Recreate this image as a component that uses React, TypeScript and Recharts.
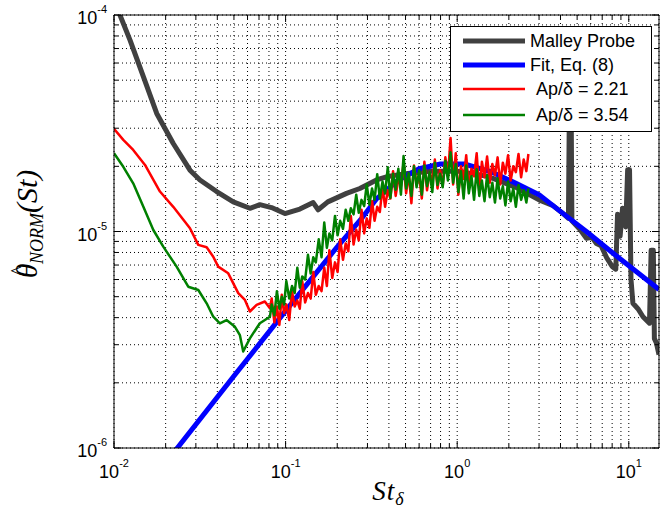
import React from 'react';
import { LineChart, Line, XAxis, YAxis, CartesianGrid, Legend } from 'recharts';

// ---------- data (y values in units of 1e-6) ----------
const malleySt = [0.01, 0.0124, 0.01483, 0.01774, 0.02215, 0.02772, 0.0317, 0.03964, 0.04955, 0.06194, 0.07081, 0.08279, 0.0991, 0.1211, 0.1448, 0.1548, 0.1762, 0.2265, 0.2708, 0.3388, 0.3873, 0.5, 0.7, 1.0, 1.5, 2.2, 3.0, 3.6, 4.2, 4.45, 4.5, 4.62, 4.66, 5.2, 5.66, 6.1, 6.48, 6.9, 7.41, 8.0, 8.4, 8.6, 8.9, 9.2, 9.6, 9.85, 10.1, 10.3, 10.57, 11.3, 12.1, 13.2, 13.5, 13.9, 14.1, 14.5, 15];
const malleyY = [117, 76.6, 51.9, 35.1, 25.5, 19.2, 17.3, 15.3, 13.7, 12.8, 13.3, 12.9, 12.1, 12.7, 13.6, 12.6, 13.7, 15.0, 15.8, 17.3, 17.9, 18.5, 19.0, 19.0, 18.0, 16.0, 14.0, 13.2, 12.0, 11.5, 33, 33, 11.2, 10.2, 9.3, 9.4, 8.8, 8.6, 7.6, 6.9, 6.7, 12.0, 9.5, 12.8, 10.5, 19.3, 19.3, 6.0, 4.66, 4.4, 4.04, 3.77, 8.2, 8.2, 3.2, 3.05, 2.7];

const fitSt = [0.022, 0.05, 0.1, 0.2, 0.28, 0.34, 0.45, 0.6, 0.8, 1.1, 1.6, 2.2, 3.0, 4.2, 5.66, 8, 11, 15];
const fitY = [0.94, 2.15, 4.3, 8.5, 11.6, 14.2, 17.2, 19.5, 20.5, 20.5, 18.8, 16.7, 14.8, 12.0, 10.0, 8.0, 6.55, 5.4];

const redSmoothSt = [0.01, 0.01133, 0.01294, 0.01516, 0.01853, 0.02215, 0.02772, 0.03099, 0.03467, 0.03788, 0.04049, 0.04632, 0.05297, 0.05795, 0.06194, 0.06776, 0.0757, 0.08103];
const redSmoothY = [29.8, 26.5, 23.8, 20.3, 15.3, 13.0, 10.35, 8.67, 8.46, 7.65, 6.88, 6.41, 5.19, 4.83, 4.27, 4.58, 4.75, 4.42];

const greenSmoothSt = [0.01, 0.01133, 0.01294, 0.01483, 0.01695, 0.01937, 0.02317, 0.02708, 0.03099, 0.03467, 0.03788, 0.0414, 0.04529, 0.05067, 0.05417, 0.05662, 0.06194, 0.07081, 0.08103];
const greenSmoothY = [23.0, 19.9, 16.7, 13.0, 10.16, 8.51, 6.88, 5.56, 5.37, 4.66, 4.04, 3.76, 3.9, 3.63, 3.32, 2.79, 3.21, 3.77, 4.04];

const noisySt = [0.083, 0.086, 0.089, 0.092, 0.095, 0.098, 0.101, 0.105, 0.109, 0.113, 0.117, 0.121, 0.125, 0.130, 0.135, 0.140, 0.145, 0.150, 0.156, 0.162, 0.168, 0.174, 0.180, 0.187, 0.194, 0.201, 0.208, 0.216, 0.224, 0.232, 0.240, 0.249, 0.258, 0.267, 0.277, 0.287, 0.297, 0.308, 0.319, 0.330, 0.342, 0.354, 0.367, 0.380, 0.394, 0.408, 0.423, 0.438, 0.454, 0.470, 0.487, 0.504, 0.522, 0.541, 0.560, 0.580, 0.601, 0.622, 0.644, 0.667, 0.691, 0.716, 0.741, 0.768, 0.795, 0.823, 0.853, 0.883, 0.915, 0.947, 0.981, 1.016, 1.052, 1.090, 1.129, 1.169, 1.211, 1.254, 1.299, 1.345, 1.393, 1.443, 1.494, 1.548, 1.603, 1.660, 1.720, 1.781, 1.845, 1.910, 1.979, 2.049, 2.122, 2.198, 2.277, 2.358, 2.442, 2.530, 2.600];
const redNoisyY = [4.9, 3.8, 4.5, 3.7, 5.1, 4.2, 4.6, 3.9, 5.3, 4.5, 4.8, 4.4, 5.9, 4.7, 5.2, 4.9, 6.5, 5.1, 5.6, 5.3, 6.8, 5.6, 8.2, 6.1, 7.2, 6.5, 9.2, 7.4, 8.8, 8.1, 11.8, 8.7, 10.2, 9.1, 12.6, 9.8, 11.5, 10.4, 13.8, 11.2, 13.0, 12.3, 16.0, 13.0, 15.5, 14.2, 19.0, 14.6, 17.5, 16.2, 20.8, 15.0, 18.5, 13.5, 20.2, 16.5, 18.0, 14.2, 21.0, 15.5, 18.8, 17.0, 21.5, 15.8, 19.2, 16.2, 22.0, 18.0, 27.0, 16.5, 23.0, 14.8, 20.0, 17.5, 22.5, 15.8, 19.5, 18.0, 23.0, 15.2, 21.0, 17.8, 22.2, 16.8, 20.5, 18.2, 22.0, 16.5, 20.8, 18.5, 22.5, 17.2, 20.0, 18.8, 22.8, 17.8, 21.5, 19.0, 22.8];
const greenNoisyY = [4.6, 4.1, 5.3, 4.4, 5.0, 4.6, 5.9, 4.9, 5.6, 5.2, 6.8, 5.5, 6.2, 6.0, 7.8, 6.4, 7.6, 7.2, 9.2, 7.6, 11.0, 8.4, 9.8, 9.1, 11.8, 9.6, 11.2, 10.3, 12.6, 11.2, 12.8, 12.0, 14.8, 12.2, 14.0, 13.1, 16.5, 13.3, 15.8, 14.0, 18.4, 14.2, 17.0, 15.0, 19.8, 14.3, 18.5, 15.6, 19.5, 14.8, 22.3, 15.8, 18.6, 14.6, 20.0, 16.0, 19.2, 14.8, 20.2, 16.2, 18.8, 15.2, 20.8, 16.4, 18.5, 16.0, 21.2, 17.2, 23.2, 16.8, 20.5, 15.2, 19.0, 14.2, 20.2, 15.0, 18.0, 14.0, 19.4, 14.6, 17.2, 13.8, 18.2, 14.4, 16.8, 13.6, 17.6, 14.2, 16.2, 13.2, 17.0, 13.8, 15.8, 13.0, 16.4, 14.0, 15.5, 13.6, 15.8];

const xTicks = [0.01, 0.02, 0.03, 0.04, 0.05, 0.06, 0.07, 0.08, 0.09, 0.1, 0.2, 0.3, 0.4, 0.5, 0.6, 0.7, 0.8, 0.9, 1, 2, 3, 4, 5, 6, 7, 8, 9, 10];
const xMajorTicks = [0.01, 0.1, 1, 10];
const xMajorExp = ['-2', '-1', '0', '1'];
const yTicks = [1e-6, 2e-6, 3e-6, 4e-6, 5e-6, 6e-6, 7e-6, 8e-6, 9e-6, 1e-5, 2e-5, 3e-5, 4e-5, 5e-5, 6e-5, 7e-5, 8e-5, 9e-5, 1e-4];
const yMajorTicks = [1e-6, 1e-5, 1e-4];
const yMajorExp = ['-6', '-5', '-4'];

const seriesNames = ['Malley Probe', 'Fit, Eq. (8)', 'Ap/\u03b4 = 2.21', 'Ap/\u03b4 = 3.54'];
const seriesColors = ['#404040', '#0000ff', '#ff0000', '#008000'];

// ---------- build point tables ----------
const toPoints = (xs: number[], ys: number[]) => xs.map((x, i) => ({ x, y: ys[i] * 1e-6 }));
const malleyData = toPoints(malleySt, malleyY);
const fitData = toPoints(fitSt, fitY);
const redData = toPoints(redSmoothSt.concat(noisySt), redSmoothY.concat(redNoisyY));
const greenData = toPoints(greenSmoothSt.concat(noisySt), greenSmoothY.concat(greenNoisyY));

const SANS = '"Liberation Sans", Arial, Helvetica, sans-serif';
const SERIF = '"Liberation Serif", "Times New Roman", serif';

const majorIndex = (v: number, majors: number[]) => majors.findIndex((m) => Math.abs(m - v) / m < 1e-6);

function BottomTick(props: any) {
  const { x, y, payload } = props;
  const idx = majorIndex(payload.value, xMajorTicks);
  const len = idx >= 0 ? 7 : 4;
  return (
    <g>
      <line x1={x} x2={x} y1={y} y2={y - len} stroke="#000" strokeWidth={1} />
      {idx >= 0 && (
        <text x={x} y={y + 30} textAnchor="middle" fontFamily={SANS} fontSize={18} fill="#000">
          10<tspan dy={-11} fontSize={11}>{xMajorExp[idx]}</tspan>
        </text>
      )}
    </g>
  );
}

function TopTick(props: any) {
  const { x, y, payload } = props;
  const idx = majorIndex(payload.value, xMajorTicks);
  const len = idx >= 0 ? 7 : 4;
  return <line x1={x} x2={x} y1={y} y2={y + len} stroke="#000" strokeWidth={1} />;
}

function LeftTick(props: any) {
  const { x, y, payload } = props;
  const idx = majorIndex(payload.value, yMajorTicks);
  const len = idx >= 0 ? 7 : 4;
  return (
    <g>
      <line x1={x} x2={x + len} y1={y} y2={y} stroke="#000" strokeWidth={1} />
      {idx >= 0 && (
        <text x={x - 7} y={y + 9} textAnchor="end" fontFamily={SANS} fontSize={18} fill="#000">
          10<tspan dy={-11} fontSize={11}>{yMajorExp[idx]}</tspan>
        </text>
      )}
    </g>
  );
}

function RightTick(props: any) {
  const { x, y, payload } = props;
  const idx = majorIndex(payload.value, yMajorTicks);
  const len = idx >= 0 ? 7 : 4;
  return <line x1={x} x2={x - len} y1={y} y2={y} stroke="#000" strokeWidth={1} />;
}

function XTitle(props: any) {
  const vb = props.viewBox || { x: 114, width: 545, y: 448 };
  const cx = vb.x + vb.width / 2 + 2;
  return (
    <text x={cx} y={500} textAnchor="middle" fontFamily={SERIF} fontStyle="italic" fontSize={27} fill="#000" letterSpacing={1}>
      St<tspan dy={5} fontSize={18}>{'\u03b4'}</tspan>
    </text>
  );
}

function YTitle() {
  const cx = 37;
  const cy = 224;
  return (
    <text
      x={cx}
      y={cy}
      transform={`rotate(-90 ${cx} ${cy})`}
      textAnchor="middle"
      fontFamily={SERIF}
      fontStyle="italic"
      fontSize={30}
      fill="#000"
    >
      {'\u03b8'}
      <tspan dx={-12} dy={-12} fontSize={20} fontStyle="normal">^</tspan>
      <tspan dx={2} dy={18} fontSize={18}>NORM</tspan>
      <tspan dy={-6} fontSize={30}>(St)</tspan>
    </text>
  );
}

function LegendBox() {
  const rowsY = [15, 39, 63, 89];
  const widths = [5, 5, 2.5, 2.5];
  const textX = [80, 80, 86, 86];
  return (
    <svg width={202} height={106} style={{ display: 'block' }}>
      <rect x={0.5} y={0.5} width={201} height={105} fill="#fff" stroke="#000" strokeWidth={1} />
      {seriesNames.map((n, i) => (
        <g key={n}>
          <line x1={13} x2={75} y1={rowsY[i]} y2={rowsY[i]} stroke={seriesColors[i]} strokeWidth={widths[i]} />
          <text x={textX[i]} y={rowsY[i] + 6} fontFamily={SANS} fontSize={18} fill="#000">
            {n}
          </text>
        </g>
      ))}
    </svg>
  );
}

export default function App() {
  return (
    <div style={{ position: 'absolute', left: 0, top: 0, width: 662, height: 510, background: '#fff' }}>
      <LineChart width={662} height={510} margin={{ top: 14, right: 2, bottom: 61, left: 113 }}>
        <CartesianGrid stroke="#000" strokeDasharray="1 3" strokeWidth={1} />
        <XAxis
          xAxisId={0}
          dataKey="x"
          type="number"
          scale="log"
          domain={[0.01, 15]}
          allowDataOverflow
          ticks={xTicks}
          interval={0}
          height={1}
          tickSize={0}
          tickMargin={0}
          tickLine={false}
          tick={<BottomTick />}
          axisLine={{ stroke: '#000', strokeWidth: 1 }}
          label={<XTitle />}
        />
        <XAxis
          xAxisId="top"
          orientation="top"
          dataKey="x"
          type="number"
          scale="log"
          domain={[0.01, 15]}
          allowDataOverflow
          ticks={xTicks}
          interval={0}
          height={1}
          tickSize={0}
          tickMargin={0}
          tickLine={false}
          tick={<TopTick />}
          axisLine={{ stroke: '#000', strokeWidth: 1 }}
        />
        <YAxis
          yAxisId={0}
          type="number"
          scale="log"
          domain={[1e-6, 1e-4]}
          allowDataOverflow
          ticks={yTicks}
          interval={0}
          width={1}
          tickSize={0}
          tickMargin={0}
          tickLine={false}
          tick={<LeftTick />}
          axisLine={{ stroke: '#000', strokeWidth: 1 }}
          label={<YTitle />}
        />
        <YAxis
          yAxisId="right"
          orientation="right"
          type="number"
          scale="log"
          domain={[1e-6, 1e-4]}
          allowDataOverflow
          ticks={yTicks}
          interval={0}
          width={1}
          tickSize={0}
          tickMargin={0}
          tickLine={false}
          tick={<RightTick />}
          axisLine={{ stroke: '#000', strokeWidth: 1 }}
        />
        <Line data={malleyData} dataKey="y" name={seriesNames[0]} type="linear" stroke={seriesColors[0]} strokeWidth={5} dot={false} strokeLinejoin="round" isAnimationActive={false} />
        <Line data={fitData} dataKey="y" name={seriesNames[1]} type="linear" stroke={seriesColors[1]} strokeWidth={5} dot={false} strokeLinejoin="round" isAnimationActive={false} />
        <Line data={redData} dataKey="y" name={seriesNames[2]} type="linear" stroke={seriesColors[2]} strokeWidth={2.5} dot={false} strokeLinejoin="round" isAnimationActive={false} />
        <Line data={greenData} dataKey="y" name={seriesNames[3]} type="linear" stroke={seriesColors[3]} strokeWidth={2.5} dot={false} strokeLinejoin="round" isAnimationActive={false} />
        <Legend
          layout="horizontal"
          verticalAlign="middle"
          align="center"
          content={() => <LegendBox />}
          wrapperStyle={{ position: 'absolute', left: 450, top: 26, width: 202, height: 106, margin: 0, padding: 0 }}
        />
      </LineChart>
    </div>
  );
}
